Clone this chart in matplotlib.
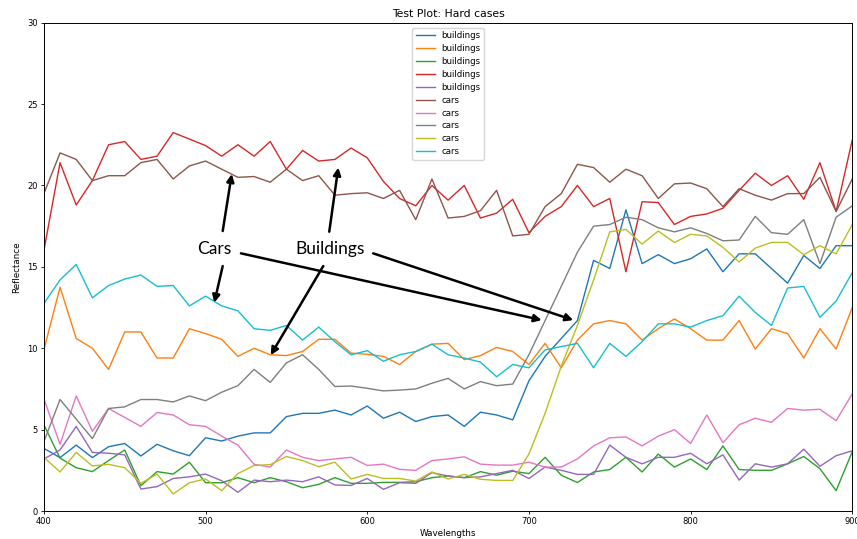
import numpy as np
from matplotlib import pyplot as plt

wavelengths = np.arange(400, 901, 10)

buildings_1 = [3.85, 3.28, 4.05, 3.28, 3.95, 4.15, 3.38, 4.1, 3.7, 3.4, 4.5, 4.3, 4.6, 4.8, 4.8, 5.8,
               6.0, 6.0, 6.2, 5.9, 6.45, 5.7, 6.07, 5.5, 5.8, 5.9, 5.2, 6.07, 5.9, 5.6, 8.0,
               9.5, 10.6, 11.7, 15.4, 14.9, 18.5, 15.2, 15.75, 15.2, 15.5, 16.1, 14.7, 15.8, 15.8, 14.9,
               14.0, 15.7, 14.9, 16.3, 16.3]
buildings_2 = [9.9, 13.75, 10.6, 10.0, 8.7, 11.0, 11.0, 9.4, 9.4, 11.2, 10.9, 10.55, 9.5, 10.0, 9.6, 9.55,
               9.8, 10.55, 10.55, 9.7, 9.63, 9.5, 9.0, 9.8, 10.25, 10.3, 9.3, 9.55, 10.05, 9.8, 9.0,
               10.3, 8.8, 10.5, 11.5, 11.7, 11.5, 10.5, 11.2, 11.8, 11.2, 10.5, 10.5, 11.7, 9.95, 11.2,
               10.9, 9.4, 11.2, 9.95, 12.5]
buildings_3 = [5.3, 3.25, 2.66, 2.42, 3.1, 3.75, 1.56, 2.42, 2.27, 3.0, 1.74, 1.74, 2.05, 1.74, 2.05, 1.8,
               1.43, 1.64, 2.05, 1.7, 1.7, 1.76, 1.76, 1.8, 2.05, 2.15, 2.05, 2.42, 2.2, 2.45, 2.3,
               3.3, 2.2, 1.75, 2.4, 2.55, 3.3, 2.4, 3.5, 2.7, 3.2, 2.55, 4.0, 2.55, 2.5, 2.5,
               2.9, 3.35, 2.6, 1.25, 3.65]
buildings_4 = [16.0, 21.4, 18.8, 20.3, 22.5, 22.7, 21.6, 21.8, 23.25, 22.85, 22.45, 21.8, 22.5, 21.8, 22.7, 21.0,
               22.15, 21.5, 21.6, 22.3, 21.7, 20.25, 19.2, 18.75, 20.0, 19.1, 20.0, 18.0, 18.3, 19.15, 17.1,
               18.1, 18.7, 20.0, 18.7, 19.2, 14.7, 19.0, 18.95, 17.6, 18.1, 18.25, 18.6, 19.7, 20.75, 20.0,
               20.6, 19.15, 21.4, 18.4, 22.8]
buildings_5 = [3.2, 3.75, 5.2, 3.6, 3.55, 3.45, 1.35, 1.5, 2.0, 2.1, 2.27, 1.86, 1.15, 1.9, 1.8, 1.9,
               1.8, 2.1, 1.6, 1.57, 2.0, 1.33, 1.74, 1.7, 2.36, 2.15, 2.05, 2.1, 2.3, 2.5, 2.0,
               2.7, 2.5, 2.25, 2.25, 4.05, 3.3, 2.9, 3.3, 3.3, 3.55, 2.9, 3.45, 1.9, 2.9, 2.7,
               2.9, 3.8, 2.75, 3.4, 3.7]

cars_1 = [19.5, 22.0, 21.6, 20.3, 20.6, 20.6, 21.4, 21.6, 20.4, 21.2, 21.5, 21.0, 20.5, 20.55, 20.2, 21.0,
          20.3, 20.6, 19.4, 19.5, 19.55, 19.2, 19.7, 17.9, 20.4, 18.0, 18.1, 18.45, 19.7, 16.9, 17.0,
          18.7, 19.5, 21.3, 21.1, 20.2, 21.0, 20.6, 19.2, 20.1, 20.15, 19.8, 18.7, 19.8, 19.4, 19.1,
          19.5, 19.5, 20.5, 18.4, 20.4]
cars_2 = [6.9, 4.1, 7.07, 4.9, 6.3, 5.75, 5.2, 6.05, 5.9, 5.3, 5.2, 4.6, 4.05, 2.87, 2.7, 3.75,
          3.3, 3.1, 3.2, 3.3, 2.8, 2.88, 2.56, 2.5, 3.1, 3.2, 3.33, 2.88, 2.82, 2.82, 3.0,
          2.7, 2.7, 3.2, 4.0, 4.5, 4.55, 4.0, 4.6, 5.0, 4.15, 5.9, 4.2, 5.3, 5.7, 5.45,
          6.3, 6.2, 6.25, 5.55, 7.2]
cars_3 = [4.26, 6.85, 5.65, 4.45, 6.3, 6.4, 6.85, 6.85, 6.7, 7.07, 6.78, 7.3, 7.7, 8.7, 7.9, 9.1,
          9.6, 8.7, 7.65, 7.68, 7.54, 7.38, 7.43, 7.5, 7.85, 8.15, 7.5, 7.95, 7.7, 7.8, 9.6,
          11.7, 13.8, 15.9, 17.5, 17.6, 18.05, 17.9, 17.4, 17.15, 17.4, 17.05, 16.6, 16.65, 18.1, 17.1,
          17.0, 17.9, 15.2, 18.05, 18.75]
cars_4 = [3.3, 2.4, 3.6, 2.77, 2.87, 2.66, 1.7, 2.27, 1.05, 1.74, 1.97, 1.25, 2.3, 2.8, 2.85, 3.35,
          3.1, 2.72, 3.0, 1.97, 2.25, 2.0, 2.0, 1.84, 2.4, 1.97, 2.25, 1.95, 1.88, 1.88, 3.5,
          6.0, 8.9, 11.4, 14.2, 17.15, 17.3, 16.4, 17.2, 16.5, 17.0, 16.9, 16.2, 15.3, 16.15, 16.5,
          16.5, 15.75, 16.3, 15.8, 17.6]
cars_5 = [12.75, 14.2, 15.15, 13.1, 13.85, 14.25, 14.5, 13.8, 13.85, 12.6, 13.2, 12.6, 12.3, 11.2, 11.1, 11.4,
          10.5, 11.3, 10.4, 9.6, 9.85, 9.2, 9.6, 9.8, 10.25, 9.6, 9.4, 9.15, 8.25, 9.0, 8.8,
          9.9, 10.1, 10.3, 8.8, 10.3, 9.5, 10.4, 11.5, 11.5, 11.3, 11.7, 12.0, 13.2, 12.2, 11.4,
          13.7, 13.8, 11.9, 12.9, 14.65]

series = [
    ('buildings', buildings_1), ('buildings', buildings_2), ('buildings', buildings_3),
    ('buildings', buildings_4), ('buildings', buildings_5),
    ('cars', cars_1), ('cars', cars_2), ('cars', cars_3), ('cars', cars_4), ('cars', cars_5),
]

# (label, text position, arrow tips)
callouts = [
    ('Cars', (505.4, 16.1), [((510.6, 17.2), (516.2, 20.7)),
                             ((510.6, 15.05), (505.4, 12.8)),
                             ((521.9, 15.83), (707.9, 11.73))]),
    ('Buildings', (577.0, 16.1), [((576.5, 17.16), (582.1, 21.1)),
                                  ((572.8, 15.05), (540.3, 9.58)),
                                  ((603.7, 15.83), (727.4, 11.73))]),
]

fig, ax = plt.subplots(figsize=(8.57, 5.39), dpi=100)
fig.subplots_adjust(left=0.0512, right=0.9945, top=0.9579, bottom=0.0519)

for label, values in series:
    ax.plot(wavelengths, values, label=label, lw=1.0)

for text, pos, arrows in callouts:
    ax.text(pos[0], pos[1], text, family='Lato', fontsize=12.5, ha='center', va='center')
    for tail, tip in arrows:
        ax.annotate('', xy=tip, xytext=tail,
                    arrowprops=dict(arrowstyle='-|>', color='black', lw=1.8,
                                    mutation_scale=11, shrinkA=0, shrinkB=0))

ax.set_xlim(400, 900)
ax.set_ylim(0, 30)
ax.set_xticks([400, 500, 600, 700, 800, 900])
ax.set_yticks([0, 5, 10, 15, 20, 25, 30])
ax.tick_params(labelsize=6, length=2.5, width=0.6, pad=2)
for spine in ax.spines.values():
    spine.set_linewidth(0.7)

ax.set_title('Test Plot: Hard cases', fontsize=7.8, pad=4)
ax.set_xlabel('Wavelengths', fontsize=6.3, labelpad=2)
ax.set_ylabel('Reflectance', fontsize=6.3, labelpad=4)
ax.legend(loc='upper center', fontsize=6.2, handlelength=2.2, labelspacing=0.45,
          borderaxespad=0.6, framealpha=0.8)

fig.savefig('out.png', dpi=100)
